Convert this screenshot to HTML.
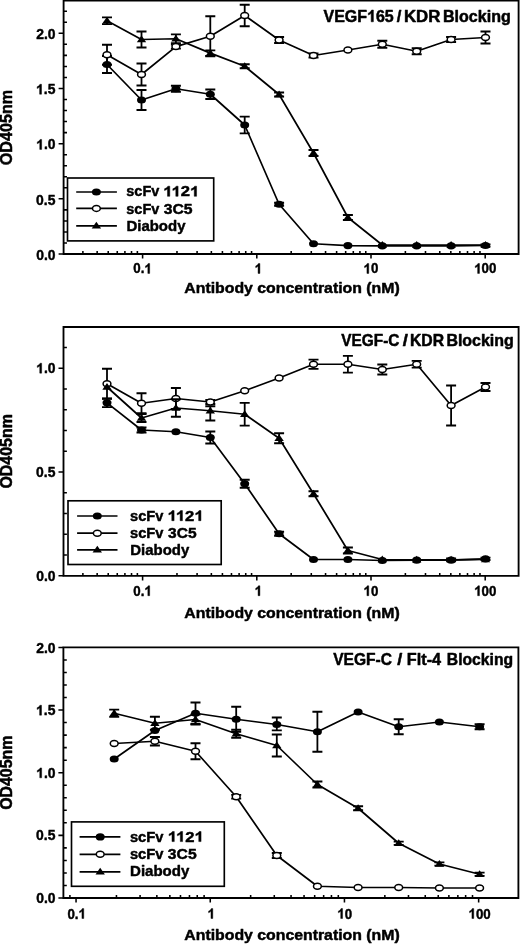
<!DOCTYPE html>
<html><head><meta charset="utf-8"><title>Blocking assays</title>
<style>
html,body{margin:0;padding:0;background:#fff;}
svg{display:block;font-family:"Liberation Sans",sans-serif;font-weight:bold;font-size:16px;fill:#000;}
text,.g1{stroke:#000;stroke-width:0.5px;stroke-linejoin:round;}
</style></head><body>
<svg width="520" height="944" viewBox="0 0 520 944">
<defs><filter id="soft" x="0" y="0" width="520" height="944" filterUnits="userSpaceOnUse"><feGaussianBlur stdDeviation="0.4"/></filter></defs>
<rect width="520" height="944" fill="#fff"/>
<g filter="url(#soft)">
<path d="M63.6 0.6H518.6V254H63.6Z" fill="none" stroke="#000" stroke-width="1.85"/>
<path d="M58.6 254H63.6M63.6 242.97H67M63.6 231.93H67M63.6 220.9H67M63.6 209.86H67M58.6 198.82H63.6M63.6 187.79H67M63.6 176.75H67M63.6 165.72H67M63.6 154.69H67M58.6 143.65H63.6M63.6 132.62H67M63.6 121.58H67M63.6 110.55H67M63.6 99.51H67M58.6 88.48H63.6M63.6 77.44H67M63.6 66.41H67M63.6 55.37H67M63.6 44.34H67M58.6 33.3H63.6M63.6 22.27H67M63.6 11.23H67M82.89 254V251.1M97.16 254V251.1M108.22 254V251.1M117.26 254V251.1M124.91 254V251.1M131.53 254V251.1M137.37 254V251.1M142.6 254V258.6M176.98 254V251.1M197.09 254V251.1M211.36 254V251.1M222.42 254V251.1M231.46 254V251.1M239.11 254V251.1M245.73 254V251.1M251.57 254V251.1M256.8 254V258.6M291.18 254V251.1M311.29 254V251.1M325.56 254V251.1M336.62 254V251.1M345.66 254V251.1M353.31 254V251.1M359.93 254V251.1M365.77 254V251.1M371 254V258.6M405.38 254V251.1M425.49 254V251.1M439.76 254V251.1M450.82 254V251.1M459.86 254V251.1M467.51 254V251.1M474.13 254V251.1M479.97 254V251.1M485.2 254V258.6" fill="none" stroke="#000" stroke-width="1.55"/>
<text transform="matrix(0.8688 0 0 0.8625 36.18 259.73)">0.0</text>
<text transform="matrix(0.8688 0 0 0.8625 36.04 204.56)">0.5</text>
<g transform="matrix(0.8688 0 0 0.8625 36.18 149.38)"><path class="g1" transform="translate(0 0)" d="M6.297 0H4.102V-8.273Q2.898 -7.148 1.266 -6.609V-8.602Q2.125 -8.883 3.133 -9.668Q4.141 -10.453 4.516 -11.5H6.297Z"/><text x="8.9">.0</text></g>
<g transform="matrix(0.8688 0 0 0.8625 36.04 94.21)"><path class="g1" transform="translate(0 0)" d="M6.297 0H4.102V-8.273Q2.898 -7.148 1.266 -6.609V-8.602Q2.125 -8.883 3.133 -9.668Q4.141 -10.453 4.516 -11.5H6.297Z"/><text x="8.9">.5</text></g>
<text transform="matrix(0.8688 0 0 0.8625 36.18 39.03)">2.0</text>
<g transform="matrix(0.8313 0 0 0.8625 133.34 273.4)"><text x="0">0.</text><path class="g1" transform="translate(13.34 0)" d="M6.297 0H4.102V-8.273Q2.898 -7.148 1.266 -6.609V-8.602Q2.125 -8.883 3.133 -9.668Q4.141 -10.453 4.516 -11.5H6.297Z"/></g>
<g transform="matrix(0.8313 0 0 0.8625 254.66 273.4)"><path class="g1" transform="translate(0 0)" d="M6.297 0H4.102V-8.273Q2.898 -7.148 1.266 -6.609V-8.602Q2.125 -8.883 3.133 -9.668Q4.141 -10.453 4.516 -11.5H6.297Z"/></g>
<g transform="matrix(0.8313 0 0 0.8625 363.52 273.4)"><path class="g1" transform="translate(0 0)" d="M6.297 0H4.102V-8.273Q2.898 -7.148 1.266 -6.609V-8.602Q2.125 -8.883 3.133 -9.668Q4.141 -10.453 4.516 -11.5H6.297Z"/><text x="8.9">0</text></g>
<g transform="matrix(0.8313 0 0 0.8625 474.22 273.4)"><path class="g1" transform="translate(0 0)" d="M6.297 0H4.102V-8.273Q2.898 -7.148 1.266 -6.609V-8.602Q2.125 -8.883 3.133 -9.668Q4.141 -10.453 4.516 -11.5H6.297Z"/><text x="8.9">00</text></g>
<text transform="matrix(0.9905 0 0 0.9692 184.33 293.2)">Antibody concentration (nM)</text>
<text transform="matrix(0 -1.0095 1.0236 0 11.9 165.25)">OD405nm</text>
<g transform="matrix(0.9994 0 0 1.0236 323.55 21.8)"><text x="0">VEGF</text><path class="g1" transform="translate(43.56 0)" d="M6.297 0H4.102V-8.273Q2.898 -7.148 1.266 -6.609V-8.602Q2.125 -8.883 3.133 -9.668Q4.141 -10.453 4.516 -11.5H6.297Z"/><text x="52.46">65</text></g>
<text transform="matrix(1.0417 0 0 1.0236 396.85 21.8)">/</text>
<text transform="matrix(1.0505 0 0 1.0236 403.94 21.8)">KDR</text>
<text transform="matrix(1.0041 0 0 1.0236 442.99 21.8)">Blocking</text>
<path d="M107 64.5L141.5 100L175.9 88.75L210.3 94.25L244.7 125L279.1 204.25L313.5 243.75L347.9 245.6L382.3 245.8L416.7 245.8L451.1 245.8L485.5 245.5" fill="none" stroke="#000" stroke-width="1.7" stroke-linejoin="round"/>
<path d="M107 56V73M102 56H112M102 73H112M141.5 90V110M136.5 90H146.5M136.5 110H146.5M175.9 85.75V91.75M170.9 85.75H180.9M170.9 91.75H180.9M210.3 89.5V99M205.3 89.5H215.3M205.3 99H215.3M244.7 116.6V133.4M239.7 116.6H249.7M239.7 133.4H249.7M279.1 202.75V205.75M274.1 202.75H284.1M274.1 205.75H284.1M485.5 244.3V246.7M480.5 244.3H490.5M480.5 246.7H490.5" fill="none" stroke="#000" stroke-width="1.8"/>
<ellipse cx="107" cy="64.5" rx="4.5" ry="3.6" fill="#000"/>
<ellipse cx="141.5" cy="100" rx="4.5" ry="3.6" fill="#000"/>
<ellipse cx="175.9" cy="88.75" rx="4.5" ry="3.6" fill="#000"/>
<ellipse cx="210.3" cy="94.25" rx="4.5" ry="3.6" fill="#000"/>
<ellipse cx="244.7" cy="125" rx="4.5" ry="3.6" fill="#000"/>
<ellipse cx="279.1" cy="204.25" rx="4.5" ry="3.6" fill="#000"/>
<ellipse cx="313.5" cy="243.75" rx="4.5" ry="3.6" fill="#000"/>
<ellipse cx="347.9" cy="245.6" rx="4.5" ry="3.6" fill="#000"/>
<ellipse cx="382.3" cy="245.8" rx="4.5" ry="3.6" fill="#000"/>
<ellipse cx="416.7" cy="245.8" rx="4.5" ry="3.6" fill="#000"/>
<ellipse cx="451.1" cy="245.8" rx="4.5" ry="3.6" fill="#000"/>
<ellipse cx="485.5" cy="245.5" rx="4.5" ry="3.6" fill="#000"/>
<path d="M107 54.75L141.5 74.5L175.9 46.6L210.3 36.25L244.7 15.5L279.1 40L313.5 55.5L347.9 50L382.3 44.25L416.7 51.25L451.1 39.5L485.5 37.5" fill="none" stroke="#000" stroke-width="1.7" stroke-linejoin="round"/>
<path d="M107 44.75V64.75M102 44.75H112M102 64.75H112M141.5 63.5V85.5M136.5 63.5H146.5M136.5 85.5H146.5M175.9 44.6V48.6M170.9 44.6H180.9M170.9 48.6H180.9M210.3 16.25V56.25M205.3 16.25H215.3M205.3 56.25H215.3M244.7 4.75V26.25M239.7 4.75H249.7M239.7 26.25H249.7M279.1 37V43M274.1 37H284.1M274.1 43H284.1M313.5 53.5V57.5M308.5 53.5H318.5M308.5 57.5H318.5M382.3 40.75V47.75M377.3 40.75H387.3M377.3 47.75H387.3M416.7 48.25V54.25M411.7 48.25H421.7M411.7 54.25H421.7M451.1 37V42M446.1 37H456.1M446.1 42H456.1M485.5 31.5V43.5M480.5 31.5H490.5M480.5 43.5H490.5" fill="none" stroke="#000" stroke-width="1.8"/>
<ellipse cx="107" cy="54.75" rx="3.9" ry="3.0" fill="#fff" stroke="#000" stroke-width="1.5"/>
<ellipse cx="141.5" cy="74.5" rx="3.9" ry="3.0" fill="#fff" stroke="#000" stroke-width="1.5"/>
<ellipse cx="175.9" cy="46.6" rx="3.9" ry="3.0" fill="#fff" stroke="#000" stroke-width="1.5"/>
<ellipse cx="210.3" cy="36.25" rx="3.9" ry="3.0" fill="#fff" stroke="#000" stroke-width="1.5"/>
<ellipse cx="244.7" cy="15.5" rx="3.9" ry="3.0" fill="#fff" stroke="#000" stroke-width="1.5"/>
<ellipse cx="279.1" cy="40" rx="3.9" ry="3.0" fill="#fff" stroke="#000" stroke-width="1.5"/>
<ellipse cx="313.5" cy="55.5" rx="3.9" ry="3.0" fill="#fff" stroke="#000" stroke-width="1.5"/>
<ellipse cx="347.9" cy="50" rx="3.9" ry="3.0" fill="#fff" stroke="#000" stroke-width="1.5"/>
<ellipse cx="382.3" cy="44.25" rx="3.9" ry="3.0" fill="#fff" stroke="#000" stroke-width="1.5"/>
<ellipse cx="416.7" cy="51.25" rx="3.9" ry="3.0" fill="#fff" stroke="#000" stroke-width="1.5"/>
<ellipse cx="451.1" cy="39.5" rx="3.9" ry="3.0" fill="#fff" stroke="#000" stroke-width="1.5"/>
<ellipse cx="485.5" cy="37.5" rx="3.9" ry="3.0" fill="#fff" stroke="#000" stroke-width="1.5"/>
<path d="M107 20.75L141.5 39.5L175.9 38.75L210.3 53.1L244.7 66.25L279.1 94.5L313.5 153L347.9 217.5L382.3 245L416.7 245.1L451.1 245.1L485.5 245.1" fill="none" stroke="#000" stroke-width="1.7" stroke-linejoin="round"/>
<path d="M107 17.45V24.05M102 17.45H112M102 24.05H112M141.5 31.5V47.5M136.5 31.5H146.5M136.5 47.5H146.5M175.9 34.45V43.05M170.9 34.45H180.9M170.9 43.05H180.9M210.3 50.4V55.8M205.3 50.4H215.3M205.3 55.8H215.3M244.7 64.25V68.25M239.7 64.25H249.7M239.7 68.25H249.7M279.1 92.5V96.5M274.1 92.5H284.1M274.1 96.5H284.1M313.5 150V156M308.5 150H318.5M308.5 156H318.5M347.9 215V220M342.9 215H352.9M342.9 220H352.9" fill="none" stroke="#000" stroke-width="1.8"/>
<path d="M102.3 23.55L111.7 23.55L107 16.75Z" fill="#000"/>
<path d="M136.8 42.3L146.2 42.3L141.5 35.5Z" fill="#000"/>
<path d="M171.2 41.55L180.6 41.55L175.9 34.75Z" fill="#000"/>
<path d="M205.6 55.9L215 55.9L210.3 49.1Z" fill="#000"/>
<path d="M240 69.05L249.4 69.05L244.7 62.25Z" fill="#000"/>
<path d="M274.4 97.3L283.8 97.3L279.1 90.5Z" fill="#000"/>
<path d="M308.8 155.8L318.2 155.8L313.5 149Z" fill="#000"/>
<path d="M343.2 220.3L352.6 220.3L347.9 213.5Z" fill="#000"/>
<path d="M377.6 247.8L387 247.8L382.3 241Z" fill="#000"/>
<path d="M412 247.9L421.4 247.9L416.7 241.1Z" fill="#000"/>
<path d="M446.4 247.9L455.8 247.9L451.1 241.1Z" fill="#000"/>
<path d="M480.8 247.9L490.2 247.9L485.5 241.1Z" fill="#000"/>
<rect x="67.5" y="178" width="146.2" height="62.9" fill="#fff" stroke="#000" stroke-width="1.65"/>
<path d="M76.2 192H116.9" stroke="#000" stroke-width="1.7"/>
<ellipse cx="96.4" cy="192" rx="4.5" ry="3.6" fill="#000"/>
<path d="M76.2 208.4H116.9" stroke="#000" stroke-width="1.7"/>
<ellipse cx="96.4" cy="208.4" rx="3.9" ry="3.0" fill="#fff" stroke="#000" stroke-width="1.5"/>
<path d="M76.2 225.8H116.9" stroke="#000" stroke-width="1.7"/>
<path d="M91.7 228.6L101.1 228.6L96.4 221.8Z" fill="#000"/>
<text transform="matrix(0.9071 0 0 0.8786 126.31 196.3)">scFv</text>
<g transform="matrix(1.0374 0 0 0.8786 163.24 196.3)"><path class="g1" transform="translate(0 0)" d="M6.297 0H4.102V-8.273Q2.898 -7.148 1.266 -6.609V-8.602Q2.125 -8.883 3.133 -9.668Q4.141 -10.453 4.516 -11.5H6.297Z"/><path class="g1" transform="translate(8.02 0)" d="M6.297 0H4.102V-8.273Q2.898 -7.148 1.266 -6.609V-8.602Q2.125 -8.883 3.133 -9.668Q4.141 -10.453 4.516 -11.5H6.297Z"/><text x="16.91">2</text><path class="g1" transform="translate(25.81 0)" d="M6.297 0H4.102V-8.273Q2.898 -7.148 1.266 -6.609V-8.602Q2.125 -8.883 3.133 -9.668Q4.141 -10.453 4.516 -11.5H6.297Z"/></g>
<text transform="matrix(0.9071 0 0 0.8786 126.31 213.6)">scFv</text>
<text transform="matrix(0.9856 0 0 0.8786 163.63 213.6)">3C5</text>
<text transform="matrix(0.9354 0 0 0.8877 126.45 230.5)">Diabody</text>
<path d="M63.5 327H518.6V575.8H63.5Z" fill="none" stroke="#000" stroke-width="1.85"/>
<path d="M58.5 575.8H63.5M63.5 555.04H66.9M63.5 534.28H66.9M63.5 513.52H66.9M63.5 492.76H66.9M58.5 472H63.5M63.5 451.24H66.9M63.5 430.48H66.9M63.5 409.72H66.9M63.5 388.96H66.9M58.5 368.2H63.5M63.5 347.44H66.9M82.89 575.8V572.9M97.16 575.8V572.9M108.22 575.8V572.9M117.26 575.8V572.9M124.91 575.8V572.9M131.53 575.8V572.9M137.37 575.8V572.9M142.6 575.8V580.4M176.98 575.8V572.9M197.09 575.8V572.9M211.36 575.8V572.9M222.42 575.8V572.9M231.46 575.8V572.9M239.11 575.8V572.9M245.73 575.8V572.9M251.57 575.8V572.9M256.8 575.8V580.4M291.18 575.8V572.9M311.29 575.8V572.9M325.56 575.8V572.9M336.62 575.8V572.9M345.66 575.8V572.9M353.31 575.8V572.9M359.93 575.8V572.9M365.77 575.8V572.9M371 575.8V580.4M405.38 575.8V572.9M425.49 575.8V572.9M439.76 575.8V572.9M450.82 575.8V572.9M459.86 575.8V572.9M467.51 575.8V572.9M474.13 575.8V572.9M479.97 575.8V572.9M485.2 575.8V580.4" fill="none" stroke="#000" stroke-width="1.55"/>
<text transform="matrix(0.8688 0 0 0.8625 36.18 580.73)">0.0</text>
<text transform="matrix(0.8688 0 0 0.8625 36.04 476.93)">0.5</text>
<g transform="matrix(0.8688 0 0 0.8625 36.18 373.13)"><path class="g1" transform="translate(0 0)" d="M6.297 0H4.102V-8.273Q2.898 -7.148 1.266 -6.609V-8.602Q2.125 -8.883 3.133 -9.668Q4.141 -10.453 4.516 -11.5H6.297Z"/><text x="8.9">.0</text></g>
<g transform="matrix(0.8313 0 0 0.8625 133.34 595.7)"><text x="0">0.</text><path class="g1" transform="translate(13.34 0)" d="M6.297 0H4.102V-8.273Q2.898 -7.148 1.266 -6.609V-8.602Q2.125 -8.883 3.133 -9.668Q4.141 -10.453 4.516 -11.5H6.297Z"/></g>
<g transform="matrix(0.8313 0 0 0.8625 254.66 595.7)"><path class="g1" transform="translate(0 0)" d="M6.297 0H4.102V-8.273Q2.898 -7.148 1.266 -6.609V-8.602Q2.125 -8.883 3.133 -9.668Q4.141 -10.453 4.516 -11.5H6.297Z"/></g>
<g transform="matrix(0.8313 0 0 0.8625 363.52 595.7)"><path class="g1" transform="translate(0 0)" d="M6.297 0H4.102V-8.273Q2.898 -7.148 1.266 -6.609V-8.602Q2.125 -8.883 3.133 -9.668Q4.141 -10.453 4.516 -11.5H6.297Z"/><text x="8.9">0</text></g>
<g transform="matrix(0.8313 0 0 0.8625 474.22 595.7)"><path class="g1" transform="translate(0 0)" d="M6.297 0H4.102V-8.273Q2.898 -7.148 1.266 -6.609V-8.602Q2.125 -8.883 3.133 -9.668Q4.141 -10.453 4.516 -11.5H6.297Z"/><text x="8.9">00</text></g>
<text transform="matrix(0.9905 0 0 0.9692 184.33 617.6)">Antibody concentration (nM)</text>
<text transform="matrix(0 -0.9971 1.0236 0 11.9 488.54)">OD405nm</text>
<text transform="matrix(0.9619 0 0 1.0054 341.25 346.2)">VEGF-C</text>
<text transform="matrix(1.1574 0 0 1.0054 402.75 346.2)">/</text>
<text transform="matrix(0.9848 0 0 1.0054 409.9 346.2)">KDR</text>
<text transform="matrix(0.998 0 0 1.0054 446.39 346.2)">Blocking</text>
<path d="M107 402.8L141.5 430L175.9 431.75L210.3 437.5L244.7 483.75L279.1 533.75L313.5 559.5L347.9 559.5L382.3 560.5L416.7 560.2L451.1 560.2L485.5 558.8" fill="none" stroke="#000" stroke-width="1.7" stroke-linejoin="round"/>
<path d="M107 398.5V407.1M102 398.5H112M102 407.1H112M141.5 427.5V432.5M136.5 427.5H146.5M136.5 432.5H146.5M210.3 431.5V443.5M205.3 431.5H215.3M205.3 443.5H215.3M244.7 479.75V487.75M239.7 479.75H249.7M239.7 487.75H249.7M279.1 531.75V535.75M274.1 531.75H284.1M274.1 535.75H284.1M485.5 557.6V560M480.5 557.6H490.5M480.5 560H490.5" fill="none" stroke="#000" stroke-width="1.8"/>
<ellipse cx="107" cy="402.8" rx="4.5" ry="3.6" fill="#000"/>
<ellipse cx="141.5" cy="430" rx="4.5" ry="3.6" fill="#000"/>
<ellipse cx="175.9" cy="431.75" rx="4.5" ry="3.6" fill="#000"/>
<ellipse cx="210.3" cy="437.5" rx="4.5" ry="3.6" fill="#000"/>
<ellipse cx="244.7" cy="483.75" rx="4.5" ry="3.6" fill="#000"/>
<ellipse cx="279.1" cy="533.75" rx="4.5" ry="3.6" fill="#000"/>
<ellipse cx="313.5" cy="559.5" rx="4.5" ry="3.6" fill="#000"/>
<ellipse cx="347.9" cy="559.5" rx="4.5" ry="3.6" fill="#000"/>
<ellipse cx="382.3" cy="560.5" rx="4.5" ry="3.6" fill="#000"/>
<ellipse cx="416.7" cy="560.2" rx="4.5" ry="3.6" fill="#000"/>
<ellipse cx="451.1" cy="560.2" rx="4.5" ry="3.6" fill="#000"/>
<ellipse cx="485.5" cy="558.8" rx="4.5" ry="3.6" fill="#000"/>
<path d="M107 383.75L141.5 403.25L175.9 398.5L210.3 402L244.7 390.75L279.1 378L313.5 364.25L347.9 364.25L382.3 369.5L416.7 364.25L451.1 405.5L485.5 387" fill="none" stroke="#000" stroke-width="1.7" stroke-linejoin="round"/>
<path d="M107 368.75V398.75M102 368.75H112M102 398.75H112M141.5 393.25V413.25M136.5 393.25H146.5M136.5 413.25H146.5M175.9 388V409M170.9 388H180.9M170.9 409H180.9M210.3 400V404M205.3 400H215.3M205.3 404H215.3M313.5 359.65V368.85M308.5 359.65H318.5M308.5 368.85H318.5M347.9 355.85V372.65M342.9 355.85H352.9M342.9 372.65H352.9M382.3 364.5V374.5M377.3 364.5H387.3M377.3 374.5H387.3M416.7 360.85V367.65M411.7 360.85H421.7M411.7 367.65H421.7M451.1 385.5V425.5M446.1 385.5H456.1M446.1 425.5H456.1M485.5 383V391M480.5 383H490.5M480.5 391H490.5" fill="none" stroke="#000" stroke-width="1.8"/>
<ellipse cx="107" cy="383.75" rx="3.9" ry="3.0" fill="#fff" stroke="#000" stroke-width="1.5"/>
<ellipse cx="141.5" cy="403.25" rx="3.9" ry="3.0" fill="#fff" stroke="#000" stroke-width="1.5"/>
<ellipse cx="175.9" cy="398.5" rx="3.9" ry="3.0" fill="#fff" stroke="#000" stroke-width="1.5"/>
<ellipse cx="210.3" cy="402" rx="3.9" ry="3.0" fill="#fff" stroke="#000" stroke-width="1.5"/>
<ellipse cx="244.7" cy="390.75" rx="3.9" ry="3.0" fill="#fff" stroke="#000" stroke-width="1.5"/>
<ellipse cx="279.1" cy="378" rx="3.9" ry="3.0" fill="#fff" stroke="#000" stroke-width="1.5"/>
<ellipse cx="313.5" cy="364.25" rx="3.9" ry="3.0" fill="#fff" stroke="#000" stroke-width="1.5"/>
<ellipse cx="347.9" cy="364.25" rx="3.9" ry="3.0" fill="#fff" stroke="#000" stroke-width="1.5"/>
<ellipse cx="382.3" cy="369.5" rx="3.9" ry="3.0" fill="#fff" stroke="#000" stroke-width="1.5"/>
<ellipse cx="416.7" cy="364.25" rx="3.9" ry="3.0" fill="#fff" stroke="#000" stroke-width="1.5"/>
<ellipse cx="451.1" cy="405.5" rx="3.9" ry="3.0" fill="#fff" stroke="#000" stroke-width="1.5"/>
<ellipse cx="485.5" cy="387" rx="3.9" ry="3.0" fill="#fff" stroke="#000" stroke-width="1.5"/>
<path d="M107 387L141.5 418L175.9 408L210.3 410.75L244.7 414.25L279.1 438.25L313.5 493.75L347.9 550.5L382.3 559.5L416.7 559.8L451.1 559.8L485.5 559.4" fill="none" stroke="#000" stroke-width="1.7" stroke-linejoin="round"/>
<path d="M141.5 414V422M136.5 414H146.5M136.5 422H146.5M175.9 399.25V416.75M170.9 399.25H180.9M170.9 416.75H180.9M210.3 406.25V420.5M205.3 406.25H215.3M205.3 420.5H215.3M244.7 402.85V425.65M239.7 402.85H249.7M239.7 425.65H249.7M279.1 433.25V443.25M274.1 433.25H284.1M274.1 443.25H284.1M313.5 491.25V496.25M308.5 491.25H318.5M308.5 496.25H318.5M347.9 547.5V553.5M342.9 547.5H352.9M342.9 553.5H352.9M451.1 558.4V561.2M446.1 558.4H456.1M446.1 561.2H456.1" fill="none" stroke="#000" stroke-width="1.8"/>
<path d="M102.3 389.8L111.7 389.8L107 383Z" fill="#000"/>
<path d="M136.8 420.8L146.2 420.8L141.5 414Z" fill="#000"/>
<path d="M171.2 410.8L180.6 410.8L175.9 404Z" fill="#000"/>
<path d="M205.6 413.55L215 413.55L210.3 406.75Z" fill="#000"/>
<path d="M240 417.05L249.4 417.05L244.7 410.25Z" fill="#000"/>
<path d="M274.4 441.05L283.8 441.05L279.1 434.25Z" fill="#000"/>
<path d="M308.8 496.55L318.2 496.55L313.5 489.75Z" fill="#000"/>
<path d="M343.2 553.3L352.6 553.3L347.9 546.5Z" fill="#000"/>
<path d="M377.6 562.3L387 562.3L382.3 555.5Z" fill="#000"/>
<path d="M412 562.6L421.4 562.6L416.7 555.8Z" fill="#000"/>
<path d="M446.4 562.6L455.8 562.6L451.1 555.8Z" fill="#000"/>
<path d="M480.8 562.2L490.2 562.2L485.5 555.4Z" fill="#000"/>
<rect x="68" y="500.8" width="153.2" height="63.7" fill="#fff" stroke="#000" stroke-width="1.65"/>
<path d="M77.1 516H117.5" stroke="#000" stroke-width="1.7"/>
<ellipse cx="97.3" cy="516" rx="4.5" ry="3.6" fill="#000"/>
<path d="M77.1 533.2H117.5" stroke="#000" stroke-width="1.7"/>
<ellipse cx="97.3" cy="533.2" rx="3.9" ry="3.0" fill="#fff" stroke="#000" stroke-width="1.5"/>
<path d="M77.1 549.8H117.5" stroke="#000" stroke-width="1.7"/>
<path d="M92.6 552.6L102 552.6L97.3 545.8Z" fill="#000"/>
<text transform="matrix(0.9154 0 0 0.8786 130.01 520.7)">scFv</text>
<g transform="matrix(1.0407 0 0 0.8786 167.53 520.7)"><path class="g1" transform="translate(0 0)" d="M6.297 0H4.102V-8.273Q2.898 -7.148 1.266 -6.609V-8.602Q2.125 -8.883 3.133 -9.668Q4.141 -10.453 4.516 -11.5H6.297Z"/><path class="g1" transform="translate(8.02 0)" d="M6.297 0H4.102V-8.273Q2.898 -7.148 1.266 -6.609V-8.602Q2.125 -8.883 3.133 -9.668Q4.141 -10.453 4.516 -11.5H6.297Z"/><text x="16.91">2</text><path class="g1" transform="translate(25.81 0)" d="M6.297 0H4.102V-8.273Q2.898 -7.148 1.266 -6.609V-8.602Q2.125 -8.883 3.133 -9.668Q4.141 -10.453 4.516 -11.5H6.297Z"/></g>
<text transform="matrix(0.9154 0 0 0.8877 130.01 537.8)">scFv</text>
<text transform="matrix(0.9716 0 0 0.8877 168.04 537.8)">3C5</text>
<text transform="matrix(0.9338 0 0 0.8967 130.35 554.7)">Diabody</text>
<path d="M63.4 647.3H518.4V898H63.4Z" fill="none" stroke="#000" stroke-width="1.85"/>
<path d="M58.4 898H63.4M63.4 885.47H66.8M63.4 872.94H66.8M63.4 860.41H66.8M63.4 847.88H66.8M58.4 835.35H63.4M63.4 822.82H66.8M63.4 810.29H66.8M63.4 797.76H66.8M63.4 785.23H66.8M58.4 772.7H63.4M63.4 760.17H66.8M63.4 747.64H66.8M63.4 735.11H66.8M63.4 722.58H66.8M58.4 710.05H63.4M63.4 697.52H66.8M63.4 684.99H66.8M63.4 672.46H66.8M63.4 659.93H66.8M58.4 647.4H63.4M69.91 898V895.1M76.05 898V902.6M116.45 898V895.1M140.08 898V895.1M156.85 898V895.1M169.85 898V895.1M180.48 898V895.1M189.46 898V895.1M197.24 898V895.1M204.11 898V895.1M210.25 898V902.6M250.65 898V895.1M274.28 898V895.1M291.05 898V895.1M304.05 898V895.1M314.68 898V895.1M323.66 898V895.1M331.44 898V895.1M338.31 898V895.1M344.45 898V902.6M384.85 898V895.1M408.48 898V895.1M425.25 898V895.1M438.25 898V895.1M448.88 898V895.1M457.86 898V895.1M465.64 898V895.1M472.51 898V895.1M478.65 898V902.6" fill="none" stroke="#000" stroke-width="1.55"/>
<text transform="matrix(0.8688 0 0 0.8625 36.18 903.13)">0.0</text>
<text transform="matrix(0.8688 0 0 0.8625 36.04 840.48)">0.5</text>
<g transform="matrix(0.8688 0 0 0.8625 36.18 777.83)"><path class="g1" transform="translate(0 0)" d="M6.297 0H4.102V-8.273Q2.898 -7.148 1.266 -6.609V-8.602Q2.125 -8.883 3.133 -9.668Q4.141 -10.453 4.516 -11.5H6.297Z"/><text x="8.9">.0</text></g>
<g transform="matrix(0.8688 0 0 0.8625 36.04 715.18)"><path class="g1" transform="translate(0 0)" d="M6.297 0H4.102V-8.273Q2.898 -7.148 1.266 -6.609V-8.602Q2.125 -8.883 3.133 -9.668Q4.141 -10.453 4.516 -11.5H6.297Z"/><text x="8.9">.5</text></g>
<text transform="matrix(0.8688 0 0 0.8625 36.18 652.53)">2.0</text>
<g transform="matrix(0.8313 0 0 0.8625 67.44 918.5)"><text x="0">0.</text><path class="g1" transform="translate(13.34 0)" d="M6.297 0H4.102V-8.273Q2.898 -7.148 1.266 -6.609V-8.602Q2.125 -8.883 3.133 -9.668Q4.141 -10.453 4.516 -11.5H6.297Z"/></g>
<g transform="matrix(0.8313 0 0 0.8625 207.56 918.5)"><path class="g1" transform="translate(0 0)" d="M6.297 0H4.102V-8.273Q2.898 -7.148 1.266 -6.609V-8.602Q2.125 -8.883 3.133 -9.668Q4.141 -10.453 4.516 -11.5H6.297Z"/></g>
<g transform="matrix(0.8313 0 0 0.8625 337.32 918.5)"><path class="g1" transform="translate(0 0)" d="M6.297 0H4.102V-8.273Q2.898 -7.148 1.266 -6.609V-8.602Q2.125 -8.883 3.133 -9.668Q4.141 -10.453 4.516 -11.5H6.297Z"/><text x="8.9">0</text></g>
<g transform="matrix(0.8313 0 0 0.8625 468.52 918.5)"><path class="g1" transform="translate(0 0)" d="M6.297 0H4.102V-8.273Q2.898 -7.148 1.266 -6.609V-8.602Q2.125 -8.883 3.133 -9.668Q4.141 -10.453 4.516 -11.5H6.297Z"/><text x="8.9">00</text></g>
<text transform="matrix(0.9905 0 0 0.9692 184.33 940.3)">Antibody concentration (nM)</text>
<text transform="matrix(0 -0.993 1.0236 0 11.9 809.84)">OD405nm</text>
<text transform="matrix(0.9719 0 0 0.9783 333.15 664.8)">VEGF-C</text>
<text transform="matrix(1.1343 0 0 0.9783 397.15 664.8)">/</text>
<text transform="matrix(1.016 0 0 0.9783 406.87 664.8)">Flt-4</text>
<text transform="matrix(0.9828 0 0 0.9783 446.81 664.8)">Blocking</text>
<path d="M114.2 759L154.9 730.5L195.5 713.25L236.2 719.25L276.8 724.5L317.4 731.75L358.1 712L398.7 726.75L439.4 722L479.6 726.75" fill="none" stroke="#000" stroke-width="1.7" stroke-linejoin="round"/>
<path d="M195.5 702.5V724M190.5 702.5H200.5M190.5 724H200.5M236.2 706.75V731.75M231.2 706.75H241.2M231.2 731.75H241.2M276.8 717.5V730.3M271.8 717.5H281.8M271.8 730.3H281.8M317.4 711.75V751.75M312.4 711.75H322.4M312.4 751.75H322.4M398.7 719.25V734.25M393.7 719.25H403.7M393.7 734.25H403.7M479.6 724.25V729.25M474.6 724.25H484.6M474.6 729.25H484.6" fill="none" stroke="#000" stroke-width="1.8"/>
<ellipse cx="114.2" cy="759" rx="4.5" ry="3.6" fill="#000"/>
<ellipse cx="154.9" cy="730.5" rx="4.5" ry="3.6" fill="#000"/>
<ellipse cx="195.5" cy="713.25" rx="4.5" ry="3.6" fill="#000"/>
<ellipse cx="236.2" cy="719.25" rx="4.5" ry="3.6" fill="#000"/>
<ellipse cx="276.8" cy="724.5" rx="4.5" ry="3.6" fill="#000"/>
<ellipse cx="317.4" cy="731.75" rx="4.5" ry="3.6" fill="#000"/>
<ellipse cx="358.1" cy="712" rx="4.5" ry="3.6" fill="#000"/>
<ellipse cx="398.7" cy="726.75" rx="4.5" ry="3.6" fill="#000"/>
<ellipse cx="439.4" cy="722" rx="4.5" ry="3.6" fill="#000"/>
<ellipse cx="479.6" cy="726.75" rx="4.5" ry="3.6" fill="#000"/>
<path d="M114.2 743.5L154.9 741.25L195.5 751.25L236.2 796.75L276.8 855.5L317.4 886.25L358.1 887.5L398.7 887.5L439.4 888L479.6 888" fill="none" stroke="#000" stroke-width="1.7" stroke-linejoin="round"/>
<path d="M154.9 737V745.5M149.9 737H159.9M149.9 745.5H159.9M195.5 743.25V759.25M190.5 743.25H200.5M190.5 759.25H200.5M236.2 794.95V798.55M231.2 794.95H241.2M231.2 798.55H241.2M276.8 853V858M271.8 853H281.8M271.8 858H281.8" fill="none" stroke="#000" stroke-width="1.8"/>
<ellipse cx="114.2" cy="743.5" rx="3.9" ry="3.0" fill="#fff" stroke="#000" stroke-width="1.5"/>
<ellipse cx="154.9" cy="741.25" rx="3.9" ry="3.0" fill="#fff" stroke="#000" stroke-width="1.5"/>
<ellipse cx="195.5" cy="751.25" rx="3.9" ry="3.0" fill="#fff" stroke="#000" stroke-width="1.5"/>
<ellipse cx="236.2" cy="796.75" rx="3.9" ry="3.0" fill="#fff" stroke="#000" stroke-width="1.5"/>
<ellipse cx="276.8" cy="855.5" rx="3.9" ry="3.0" fill="#fff" stroke="#000" stroke-width="1.5"/>
<ellipse cx="317.4" cy="886.25" rx="3.9" ry="3.0" fill="#fff" stroke="#000" stroke-width="1.5"/>
<ellipse cx="358.1" cy="887.5" rx="3.9" ry="3.0" fill="#fff" stroke="#000" stroke-width="1.5"/>
<ellipse cx="398.7" cy="887.5" rx="3.9" ry="3.0" fill="#fff" stroke="#000" stroke-width="1.5"/>
<ellipse cx="439.4" cy="888" rx="3.9" ry="3.0" fill="#fff" stroke="#000" stroke-width="1.5"/>
<ellipse cx="479.6" cy="888" rx="3.9" ry="3.0" fill="#fff" stroke="#000" stroke-width="1.5"/>
<path d="M114.2 713.25L154.9 723.25L195.5 719.5L236.2 733.75L276.8 745.5L317.4 784.5L358.1 808.25L398.7 843.25L439.4 864L479.6 874.25" fill="none" stroke="#000" stroke-width="1.7" stroke-linejoin="round"/>
<path d="M114.2 709.65V716.85M109.2 709.65H119.2M109.2 716.85H119.2M154.9 716.75V729.75M149.9 716.75H159.9M149.9 729.75H159.9M195.5 714.5V724.5M190.5 714.5H200.5M190.5 724.5H200.5M236.2 729.75V737.75M231.2 729.75H241.2M231.2 737.75H241.2M276.8 734.5V756.5M271.8 734.5H281.8M271.8 756.5H281.8M317.4 781.5V787.5M312.4 781.5H322.4M312.4 787.5H322.4M358.1 806.25V810.25M353.1 806.25H363.1M353.1 810.25H363.1M398.7 841.65V844.85M393.7 841.65H403.7M393.7 844.85H403.7M439.4 862.4V865.6M434.4 862.4H444.4M434.4 865.6H444.4M479.6 872.65V875.85M474.6 872.65H484.6M474.6 875.85H484.6" fill="none" stroke="#000" stroke-width="1.8"/>
<path d="M109.5 716.05L118.9 716.05L114.2 709.25Z" fill="#000"/>
<path d="M150.2 726.05L159.6 726.05L154.9 719.25Z" fill="#000"/>
<path d="M190.8 722.3L200.2 722.3L195.5 715.5Z" fill="#000"/>
<path d="M231.5 736.55L240.9 736.55L236.2 729.75Z" fill="#000"/>
<path d="M272.1 748.3L281.5 748.3L276.8 741.5Z" fill="#000"/>
<path d="M312.7 787.3L322.1 787.3L317.4 780.5Z" fill="#000"/>
<path d="M353.4 811.05L362.8 811.05L358.1 804.25Z" fill="#000"/>
<path d="M394 846.05L403.4 846.05L398.7 839.25Z" fill="#000"/>
<path d="M434.7 866.8L444.1 866.8L439.4 860Z" fill="#000"/>
<path d="M474.9 877.05L484.3 877.05L479.6 870.25Z" fill="#000"/>
<rect x="71.5" y="821.9" width="152.8" height="64.4" fill="#fff" stroke="#000" stroke-width="1.65"/>
<path d="M79.6 836.9H120.4" stroke="#000" stroke-width="1.7"/>
<ellipse cx="100.2" cy="836.9" rx="4.5" ry="3.6" fill="#000"/>
<path d="M79.6 854.3H120.4" stroke="#000" stroke-width="1.7"/>
<ellipse cx="100.2" cy="854.3" rx="3.9" ry="3.0" fill="#fff" stroke="#000" stroke-width="1.5"/>
<path d="M79.6 871.8H120.4" stroke="#000" stroke-width="1.7"/>
<path d="M95.5 874.6L104.9 874.6L100.2 867.8Z" fill="#000"/>
<text transform="matrix(0.9209 0 0 0.8786 129.91 841.6)">scFv</text>
<g transform="matrix(1.0374 0 0 0.8786 167.74 841.6)"><path class="g1" transform="translate(0 0)" d="M6.297 0H4.102V-8.273Q2.898 -7.148 1.266 -6.609V-8.602Q2.125 -8.883 3.133 -9.668Q4.141 -10.453 4.516 -11.5H6.297Z"/><path class="g1" transform="translate(8.02 0)" d="M6.297 0H4.102V-8.273Q2.898 -7.148 1.266 -6.609V-8.602Q2.125 -8.883 3.133 -9.668Q4.141 -10.453 4.516 -11.5H6.297Z"/><text x="16.91">2</text><path class="g1" transform="translate(25.81 0)" d="M6.297 0H4.102V-8.273Q2.898 -7.148 1.266 -6.609V-8.602Q2.125 -8.883 3.133 -9.668Q4.141 -10.453 4.516 -11.5H6.297Z"/></g>
<text transform="matrix(0.9209 0 0 0.8877 129.91 858.8)">scFv</text>
<text transform="matrix(0.9821 0 0 0.8877 167.84 858.8)">3C5</text>
<text transform="matrix(0.9402 0 0 0.8967 130.05 875.7)">Diabody</text>
</g>
</svg>
</body></html>
